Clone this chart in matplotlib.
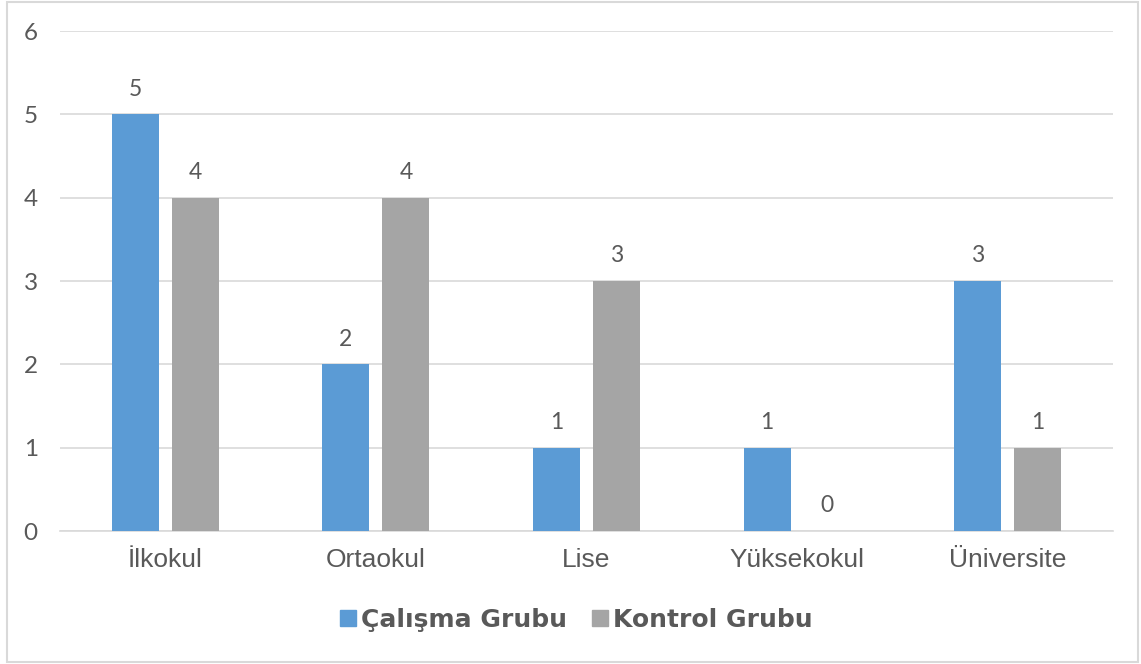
import matplotlib
matplotlib.use('Agg')
import matplotlib.pyplot as plt
import numpy as np
from matplotlib.lines import Line2D
from matplotlib.patches import Rectangle

# === DATA === #
categories = ['İlkokul', 'Ortaokul', 'Lise', 'Yüksekokul', 'Üniversite']
calisma = [5, 2, 1, 1, 3]     # Çalışma Grubu
kontrol = [4, 4, 3, 0, 1]     # Kontrol Grubu
series_names = ['Çalışma Grubu', 'Kontrol Grubu']
yticks = [0, 1, 2, 3, 4, 5, 6]

blue = '#5b9bd5'
gray = '#a5a5a5'
txt = '#595959'
grid = '#d9d9d9'

fig = plt.figure(figsize=(11.41, 6.64), dpi=100)
ax = fig.add_axes([60/1141, 1 - 531/664, (1113 - 60)/1141, (531 - 31)/664])

x = np.arange(len(categories))
w = 0.223
off = 0.1425
b1 = ax.bar(x - off, calisma, w, color=blue, zorder=3)
b2 = ax.bar(x + off, kontrol, w, color=gray, zorder=3)

# data labels above bars
for bars, vals in [(b1, calisma), (b2, kontrol)]:
    for rect, v in zip(bars, vals):
        ax.annotate(str(v), (rect.get_x() + rect.get_width()/2, v),
                    xytext=(0, 18), textcoords='offset points',
                    ha='center', va='center', fontsize=16.5, color=txt, family='Lato')

ax.set_xlim(-0.5, len(categories) - 0.5)
ax.set_ylim(0, 6)
ax.set_yticks(yticks)
ax.set_yticklabels([str(t) for t in yticks], fontsize=17.5, color=txt, family='Lato')
ax.set_xticks(x)
ax.set_xticklabels(categories, fontsize=19, color=txt, family='Liberation Sans')
ax.tick_params(axis='both', length=0)
ax.tick_params(axis='y', pad=16)
ax.tick_params(axis='x', pad=12)
ax.grid(axis='y', color=grid, linewidth=1.2, zorder=0)
for s in ['top', 'right', 'left']:
    ax.spines[s].set_visible(False)
ax.spines['bottom'].set_color(grid)
ax.spines['bottom'].set_linewidth(1.2)

# legend
handles = [Line2D([], [], marker='s', linestyle='none', markersize=12, color=blue),
           Line2D([], [], marker='s', linestyle='none', markersize=12, color=gray)]
fig.legend(handles, series_names, loc='center', bbox_to_anchor=(576/1141, 1 - 620/664),
           ncol=2, frameon=False, handletextpad=0.15, columnspacing=1.0, handlelength=0.7,
           prop={'family': 'DejaVu Sans', 'weight': 'bold', 'size': 18}, labelcolor=txt)

# outer border
fig.patches.append(Rectangle((7/1141, 2/664), (1138 - 7)/1141, (662 - 2)/664,
                             transform=fig.transFigure, fill=False,
                             edgecolor=grid, linewidth=1.5))

fig.savefig('out.png', dpi=100)
